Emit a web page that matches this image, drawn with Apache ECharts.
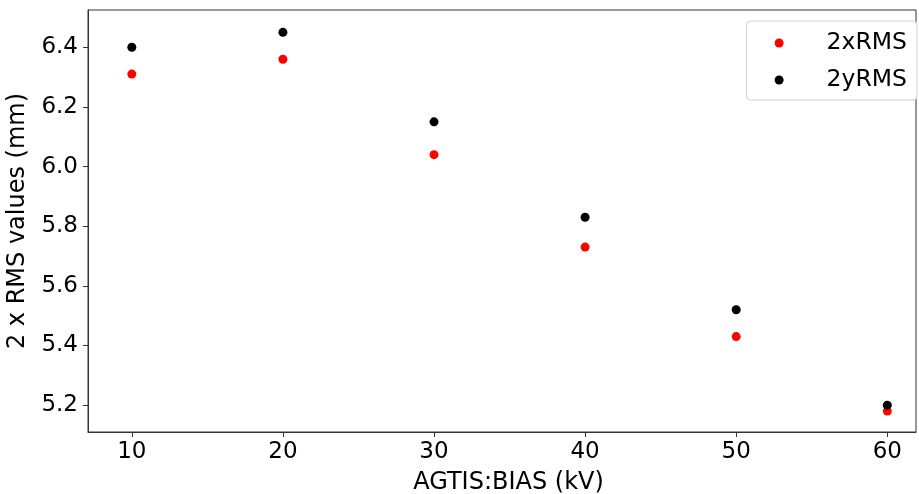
<!DOCTYPE html>
<html>
<head>
<meta charset="utf-8">
<script src="https://cdn.jsdelivr.net/npm/echarts@6/dist/echarts.min.js"></script>
<style>
  html, body { margin: 0; padding: 0; background: #fff; }
  #chart { width: 919px; height: 494px; }
</style>
</head>
<body>
<div id="chart"></div>
<script>
// Bias voltage settings (kV)
const biasKV = [10, 20, 30, 40, 50, 60];
// Twice the RMS beam size in x and y (mm)
const xRms2 = [6.31, 6.36, 6.04, 5.73, 5.43, 5.18];
const yRms2 = [6.40, 6.45, 6.15, 5.83, 5.52, 5.20];
// Tick labels
const xTicks = [10, 20, 30, 40, 50, 60];
const yTicks = [5.2, 5.4, 5.6, 5.8, 6.0, 6.2, 6.4];

const FONT = 'DejaVu Sans';
const axisColor = '#333';

const chart = echarts.init(document.getElementById('chart'), null, { renderer: 'canvas' });

const pairs = (xs, ys) => xs.map((x, i) => [x, ys[i]]);

chart.setOption({
  animation: false,
  backgroundColor: '#fff',
  grid: {
    left: 88, top: 10, right: 3, bottom: 62,
    outerBoundsMode: 'none',
    containLabel: false,
    show: true, borderColor: axisColor, borderWidth: 1, backgroundColor: 'transparent'
  },
  legend: {
    show: true,
    right: 2, top: 21,
    orient: 'vertical',
    icon: 'circle',
    itemWidth: 9, itemHeight: 9,
    itemGap: 13,
    padding: [10, 10, 8, 28],
    borderColor: '#d0d0d0', borderWidth: 1, borderRadius: 4,
    backgroundColor: '#fff',
    textStyle: { fontFamily: FONT, fontSize: 23.5, color: '#000', padding: [0, 0, 0, 38] },
    data: ['2xRMS', '2yRMS']
  },
  xAxis: {
    type: 'value',
    min: 7.1, max: 61.9,
    name: 'AGTIS:BIAS (kV)',
    nameLocation: 'middle',
    nameGap: 39,
    nameTextStyle: { fontFamily: FONT, fontSize: 24, color: '#000', padding: [0, 0, 0, 13] },
    axisLine: { show: true, onZero: false, lineStyle: { color: axisColor, width: 1 } },
    axisTick: { show: true, inside: false, length: 5, lineStyle: { color: axisColor }, customValues: xTicks },
    axisLabel: { fontFamily: FONT, fontSize: 23, color: '#000', margin: 9, customValues: xTicks,
      formatter: v => String(v) },
    splitLine: { show: false }
  },
  yAxis: {
    type: 'value',
    min: 5.11, max: 6.525,
    name: '2 x RMS values (mm)',
    nameLocation: 'middle',
    nameGap: 58,
    nameRotate: 90,
    nameTextStyle: { fontFamily: FONT, fontSize: 24, color: '#000' },
    axisLine: { show: true, onZero: false, lineStyle: { color: axisColor, width: 1 } },
    axisTick: { show: true, inside: false, length: 5, lineStyle: { color: axisColor }, customValues: yTicks },
    axisLabel: { fontFamily: FONT, fontSize: 23, color: '#000', margin: 10, customValues: yTicks,
      formatter: v => v.toFixed(1) },
    splitLine: { show: false }
  },
  series: [
    {
      name: '2xRMS', type: 'scatter', symbol: 'circle', symbolSize: 9,
      itemStyle: { color: '#ff0000', opacity: 1 },
      data: pairs(biasKV, xRms2), z: 2
    },
    {
      name: '2yRMS', type: 'scatter', symbol: 'circle', symbolSize: 9,
      itemStyle: { color: '#000000', opacity: 1 },
      data: pairs(biasKV, yRms2), z: 3
    }
  ]
});
</script>
</body>
</html>
